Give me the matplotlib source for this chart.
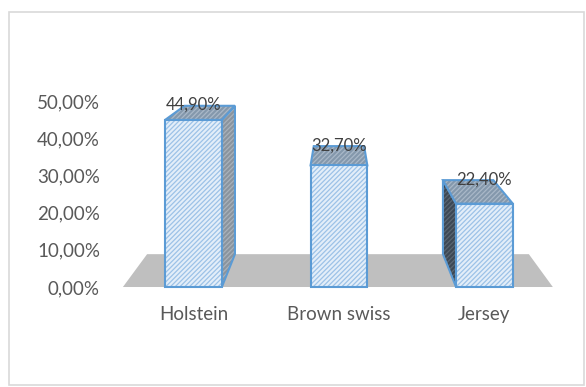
import matplotlib.pyplot as plt
from matplotlib.patches import Rectangle

breeds = ["Holstein", "Brown swiss", "Jersey"]
shares = [44.9, 32.7, 22.4]  # percent
y_ticks = [0, 10, 20, 30, 40, 50]

# one-point perspective: vanishing point (data units) and depth shrink of the back plane
VX, VY = 1.0, 78.8
DEPTH = 0.888
BAR_W = 0.39
EDGE = "#5b9bd5"


def back(x, v):
    return VX + DEPTH * (x - VX), VY + DEPTH * (v - VY)


def face(ax, pts, bg, stripe):
    xs = [p[0] for p in pts]
    ys = [p[1] for p in pts]
    ax.fill(xs, ys, facecolor=bg, edgecolor=stripe, hatch="///////", lw=0, clip_on=False)
    ax.fill(xs, ys, fill=False, edgecolor=EDGE, lw=1.5, clip_on=False)


plt.rcParams["font.family"] = ["Lato", "DejaVu Sans"]
plt.rcParams["hatch.linewidth"] = 0.9

fig = plt.figure(figsize=(5.86, 3.87), dpi=100)
fig.patches.append(Rectangle((9 / 586, 2 / 387), 575 / 586, 373 / 387, transform=fig.transFigure,
                             fill=False, edgecolor="#d9d9d9", lw=1.2))
ax = fig.add_axes([105 / 586, 87 / 387, 481 / 586, 288 / 387])
ax.set_xlim(-0.608, 2.698)
ax.set_ylim(-3.49, 73.9)
for s in ax.spines.values():
    s.set_visible(False)

# floor
pos = list(range(len(breeds)))
fl, fr = pos[0] - 0.485, pos[-1] + 0.47
b_l, b_r = back(fl, 0), back(fr, 0)
ax.fill([fl, fr, b_r[0], b_l[0]], [0, 0, b_r[1], b_l[1]], color="#bfbfbf", lw=0, clip_on=False)

for x, v, name in zip(pos, shares, breeds):
    xl, xr = x - BAR_W / 2, x + BAR_W / 2
    # side faces turned towards the viewer
    if back(xr, v)[0] > xr + 0.01:
        face(ax, [(xr, 0), (xr, v), back(xr, v), back(xr, 0)], "#8a949e", "#a9b2bb")
    if back(xl, v)[0] < xl - 0.01:
        face(ax, [(xl, 0), (xl, v), back(xl, v), back(xl, 0)], "#3c4855", "#5a6672")
    face(ax, [(xl, v), (xr, v), back(xr, v), back(xl, v)], "#8498ac", "#a9b8c8")
    ax.bar(x, v, width=BAR_W, facecolor="#e3eef9", edgecolor="#9cc2e7", hatch="///////", lw=0,
           clip_on=False)
    ax.bar(x, v, width=BAR_W, fill=False, edgecolor=EDGE, lw=1.5, clip_on=False)
    ax.text(x, back(x, v)[1] + 0.2, f"{v:.2f}%".replace(".", ","), ha="center", va="center",
            fontsize=12, color="#404040")

ax.set_yticks(y_ticks)
ax.set_yticklabels([f"{t:.2f}%".replace(".", ",") for t in y_ticks])
ax.set_xticks(pos)
ax.set_xticklabels(breeds)
ax.tick_params(length=0, labelsize=13.5, labelcolor="#595959")
ax.tick_params(axis="y", pad=3.6)
ax.tick_params(axis="x", pad=4.5)

fig.savefig("out.png", dpi=100)
